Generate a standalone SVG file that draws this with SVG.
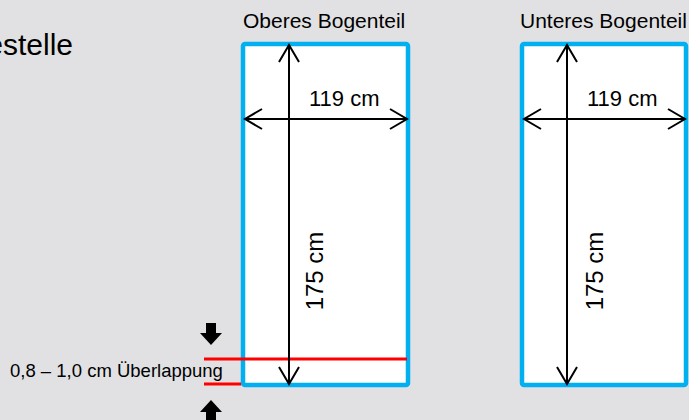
<svg xmlns="http://www.w3.org/2000/svg" width="689" height="420" viewBox="0 0 689 420">
<style>
.t{font-family:"Liberation Sans",Arial,sans-serif;fill:#000}
.panel{fill:#fff;stroke:#00b0f0;stroke-width:4.5}
.dim{stroke:#000;stroke-width:2;fill:none}
.red{stroke:#ff0000;stroke-width:3}
</style>
<defs>
<marker id="ah" markerUnits="userSpaceOnUse" markerWidth="24" markerHeight="24" viewBox="-20 -12 24 24" refX="0" refY="0" orient="auto">
<path d="M-17,-10 L0,0 L-17,10" fill="none" stroke="#000" stroke-width="2"/>
</marker>
</defs>
<rect width="689" height="420" fill="#e1e1e3"/>
<text class="t" x="73" y="55" font-size="30" text-anchor="end">estelle</text>
<g id="upper-part">
<rect class="panel" x="243" y="44" width="165" height="341" rx="2"/>
<text class="t" x="243" y="28" font-size="21">Oberes Bogenteil</text>
<text class="t" x="309" y="106" font-size="22">119 cm</text>
<text class="t" font-size="24" text-anchor="middle" transform="translate(323,271) rotate(-90)">175 cm</text>
</g>
<g id="lower-part">
<rect class="panel" x="522" y="44" width="164" height="341" rx="2"/>
<text class="t" x="520" y="28" font-size="21">Unteres Bogenteil</text>
<text class="t" x="587" y="106" font-size="22">119 cm</text>
<text class="t" font-size="24" text-anchor="middle" transform="translate(603,271) rotate(-90)">175 cm</text>
</g>
<g id="overlap">
<line class="red" x1="204" y1="359" x2="407" y2="359"/>
<line class="red" x1="204" y1="384" x2="241" y2="384"/>
<text class="t" x="10" y="377" font-size="18.5">0,8 – 1,0 cm Überlappung</text>
<path d="M206,323 H216 V333 H222 L211,345 L200,333 H206 Z" fill="#000"/>
<path d="M206,420 H216 V412 H222 L211,400 L200,412 H206 Z" fill="#000"/>
</g>
<g id="connectors">
<line class="dim" x1="289" y1="384" x2="289" y2="45" marker-end="url(#ah)"/>
<line class="dim" x1="289" y1="60" x2="289" y2="384" marker-end="url(#ah)"/>
<line class="dim" x1="260" y1="119" x2="407" y2="119" marker-end="url(#ah)"/>
<line class="dim" x1="390" y1="119" x2="245" y2="119" marker-end="url(#ah)"/>
<line class="dim" x1="567" y1="384" x2="567" y2="45" marker-end="url(#ah)"/>
<line class="dim" x1="567" y1="60" x2="567" y2="384" marker-end="url(#ah)"/>
<line class="dim" x1="540" y1="119" x2="685" y2="119" marker-end="url(#ah)"/>
<line class="dim" x1="670" y1="119" x2="524" y2="119" marker-end="url(#ah)"/>
</g>
</svg>
